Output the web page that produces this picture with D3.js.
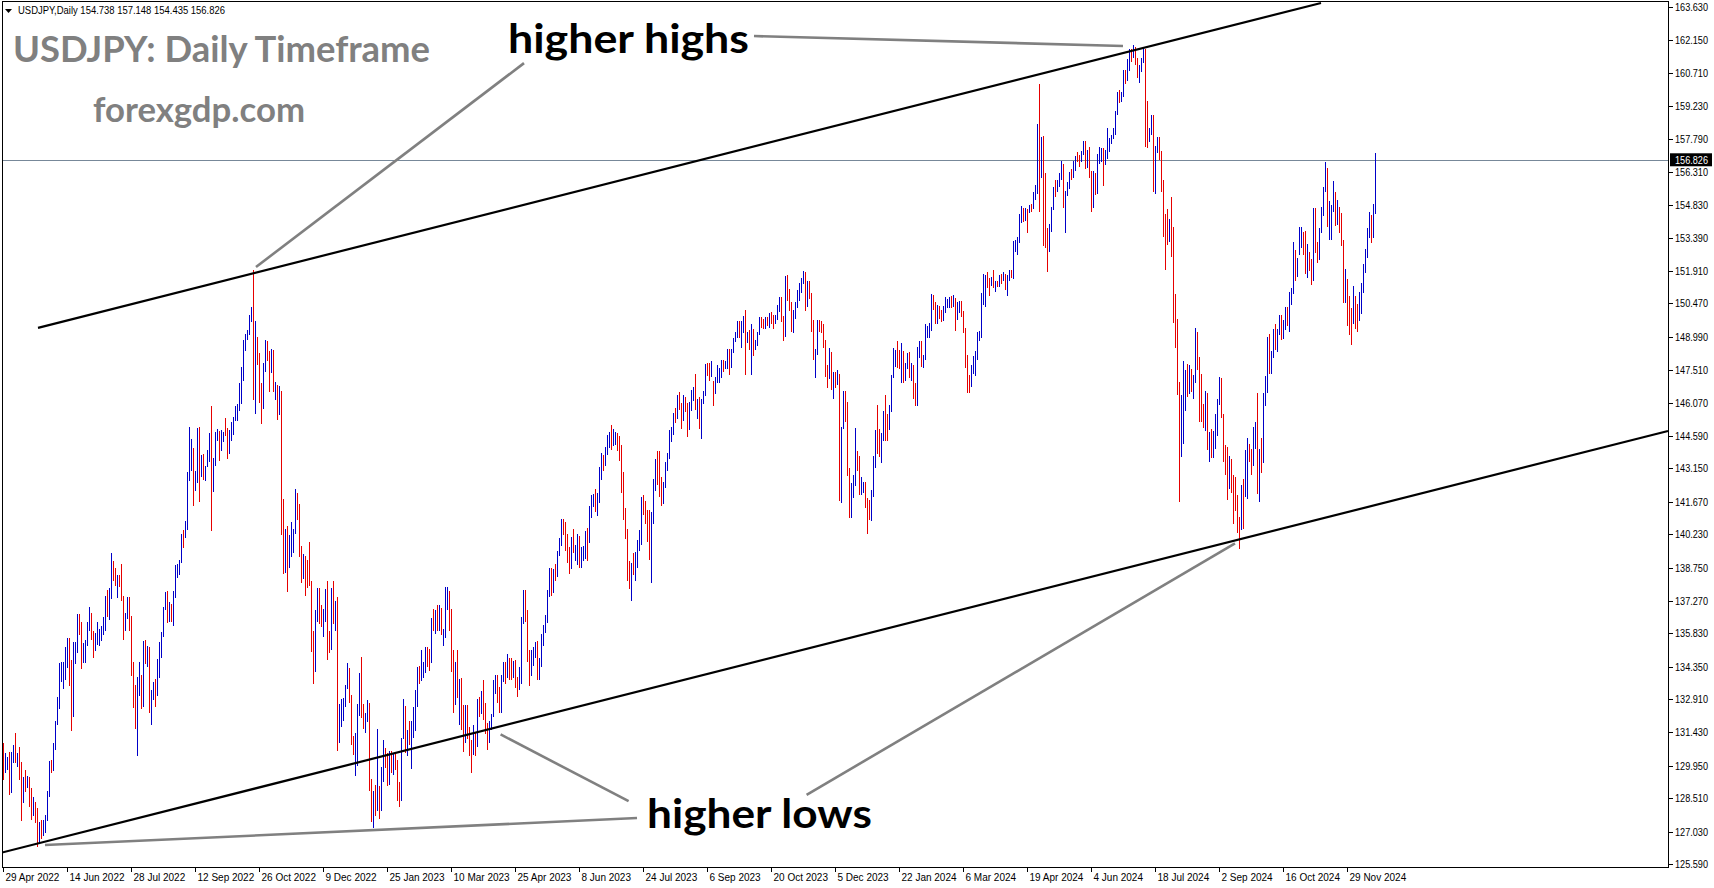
<!DOCTYPE html>
<html><head><meta charset="utf-8">
<script src="https://cdn.jsdelivr.net/npm/d3@7"></script>
<style>
html,body{margin:0;padding:0;background:#fff;overflow:hidden}
svg{display:block}
</style></head><body>
<script>
// ---------- DATA (daily bars: high, low, close; open = previous close) ----------
const firstOpen = 130.85;
const apr22 = [130.95,129.32,129.70];
const may22 = [130.50,129.62,130.15, 130.35,129.75,130.18, 130.57,128.65,129.10, 130.57,128.75,130.20, 130.87,130.09,130.55,
  131.39,130.09,130.27, 130.50,129.90,130.45, 130.80,129.30,129.95, 130.13,127.51,128.35, 129.45,128.30,129.25,
  129.75,128.80,129.15, 129.50,128.95,129.40, 129.45,128.10,128.25, 128.95,127.55,127.80, 128.55,127.70,127.90,
  128.35,127.40,127.85, 128.06,126.36,126.85, 127.45,126.55,127.35, 127.55,126.70,127.10, 127.55,126.85,127.15,
  127.75,126.95,127.60, 128.85,127.50,128.70];
const jun22 = [130.15,128.55,130.05, 130.20,129.65,129.85, 130.95,129.70,130.85, 131.95,130.65,131.90, 133.00,131.75,132.65,
  134.50,132.45,134.25, 134.55,133.65,134.35, 134.55,133.35,134.40, 135.20,133.75,134.45, 135.60,134.30,135.45,
  135.60,133.50,134.05, 134.65,131.50,132.20, 135.45,132.10,134.95, 135.45,134.45,135.05, 136.70,134.95,136.65,
  136.70,135.75,136.20, 136.35,134.25,134.95, 135.40,134.50,135.20, 135.55,134.50,135.45, 136.35,135.25,136.15,
  137.00,135.95,136.60, 136.75,135.55,135.70];
const jul22 = [135.95,134.75,135.20, 135.85,135.05,135.70, 136.35,135.30,135.85, 136.00,135.25,135.90, 136.15,135.50,136.00,
  136.55,135.75,136.10, 137.50,135.95,137.45, 137.75,136.55,137.00, 137.85,136.40,137.40, 139.40,137.35,138.95,
  139.05,138.15,138.55, 138.75,137.95,138.15, 138.40,137.40,138.20, 138.40,137.90,138.15, 138.90,137.25,137.40,
  137.50,135.55,136.10, 136.75,135.95,136.70, 137.45,136.45,137.00, 137.45,135.95,136.55, 136.60,133.95,134.25,
  134.55,132.50,133.25];
const aug22 = [133.55,131.60,131.60, 133.90,130.40,133.20, 134.55,133.05,133.85, 134.00,132.45,133.00, 135.50,132.55,135.00,
  135.55,134.45,134.95, 135.25,134.35,135.05, 135.20,132.30,132.90, 133.30,131.75,133.00, 133.65,132.85,133.45,
  133.80,132.55,133.30, 134.70,133.05,134.20, 135.45,133.85,135.00, 135.90,134.75,135.90, 137.00,135.65,136.90,
  137.65,136.85,137.45, 137.70,136.30,136.75, 137.20,136.35,137.10, 137.15,136.35,136.55, 137.70,136.15,137.55,
  138.85,137.40,138.75, 138.90,138.30,138.78, 139.10,138.40,138.95];
const sep22 = [140.25,138.95,140.20, 140.40,139.60,140.15, 140.80,140.05,140.60, 143.00,140.40,142.75, 144.99,142.60,143.75,
  144.45,143.05,144.10, 144.05,141.50,142.55, 143.05,142.15,142.85, 144.95,142.50,144.55, 145.00,141.65,143.15,
  143.75,142.75,143.45, 143.80,142.65,142.90, 143.25,142.60,143.20, 143.95,143.20,143.70, 144.70,143.45,144.00,
  145.90,140.35,142.40, 143.60,142.10,143.35, 144.75,143.25,144.70, 144.90,144.35,144.80, 144.80,143.50,144.20,
  144.85,143.90,144.45, 144.75,144.30,144.75];
const oct22 = [145.40,144.60,144.70, 144.95,143.55,144.10, 144.85,143.80,144.60, 145.20,144.35,145.10, 145.45,144.65,145.30,
  145.90,145.25,145.70, 146.00,145.25,145.80, 146.95,145.70,146.90, 147.65,146.00,147.20, 148.85,147.05,148.70,
  149.10,148.35,149.00, 149.30,148.85,149.20, 149.95,149.05,149.90, 150.30,149.65,150.15, 151.95,146.20,147.65,
  149.70,145.55,148.95, 149.00,147.75,148.00, 148.25,146.05,146.35, 146.95,145.10,146.25, 147.85,145.80,147.65,
  148.85,147.45,148.70];
const nov22 = [148.80,147.90,148.20, 148.35,146.55,147.90, 148.45,147.40,148.20, 148.40,146.55,146.60, 147.00,146.20,146.65,
  146.85,145.30,145.65, 146.80,145.50,146.40, 146.60,140.20,141.00, 141.80,138.45,138.75, 140.45,138.50,139.95,
  140.60,137.65,139.30, 140.20,138.75,139.50, 140.75,139.20,140.15, 140.45,139.40,140.35, 142.25,140.25,142.10,
  142.05,140.85,141.25, 141.55,139.20,139.55, 139.70,138.05,138.60, 139.35,138.25,139.20, 139.25,137.50,138.90,
  139.10,137.85,138.70, 139.90,137.95,138.10];
const dec22 = [138.15,135.00,135.30, 135.95,133.60,134.30, 136.85,134.10,136.75, 137.85,136.35,136.95, 137.85,136.25,136.65,
  137.10,136.10,136.55, 136.90,135.65,136.60, 137.80,136.35,137.70, 138.15,134.65,135.60, 135.95,134.95,135.50,
  137.85,135.10,137.75, 138.15,136.25,136.65, 137.25,135.95,137.05, 137.45,130.60,131.70, 132.70,130.95,132.40,
  132.90,131.65,132.45, 132.95,131.95,132.85, 133.55,132.55,133.50, 134.50,133.35,134.40, 134.30,132.75,133.05,
  133.10,130.85,131.10];
const jan23 = [131.25,130.45,130.70, 131.40,129.50,131.00, 132.70,129.95,132.40, 134.05,132.15,133.40, 134.80,132.05,132.10,
  132.70,131.60,131.90, 132.30,131.40,132.25, 132.85,131.90,132.45, 132.75,128.85,129.20, 129.35,127.45,127.90,
  128.85,127.20,128.55, 129.10,127.70,128.10, 131.58,127.95,128.90, 129.05,127.60,128.45, 129.90,127.95,129.60,
  131.10,129.25,130.65, 130.75,129.85,130.15, 130.50,129.05,129.20, 130.60,129.10,130.20, 130.60,129.65,129.85,
  130.50,129.55,130.30, 130.50,129.75,130.10];
const feb23 = [130.20,128.40,128.95, 129.25,128.10,128.65, 131.20,128.40,131.20, 132.90,131.15,132.60, 132.60,130.50,131.05,
  131.55,130.40,131.40, 131.95,130.85,131.35, 131.95,129.80,131.40, 132.55,131.20,132.40, 133.30,131.50,133.15,
  134.35,132.55,134.10, 134.40,133.60,133.95, 135.10,133.70,134.15, 134.55,133.85,134.25, 135.20,134.05,134.95,
  135.20,134.35,134.90, 135.15,134.15,134.70, 136.50,134.50,136.45, 136.90,135.95,136.20, 136.85,135.80,136.25];
const mar23 = [137.10,135.95,136.10, 137.10,135.95,136.70, 136.95,135.75,135.85, 136.00,135.25,135.90, 137.90,135.60,137.15,
  137.90,136.85,137.30, 137.70,135.95,136.10, 136.90,134.10,135.00, 135.10,132.30,133.20, 134.55,132.65,134.20,
  135.10,132.95,133.40, 133.80,131.75,133.70, 133.85,131.55,131.90, 132.65,130.55,131.35, 132.65,130.95,132.45,
  132.65,131.15,131.45, 131.65,130.40,130.75, 131.10,129.65,130.70, 131.75,130.45,131.50, 131.45,130.40,130.90,
  132.90,130.80,132.85, 133.00,132.10,132.70, 133.25,132.25,132.85];
const apr23 = [133.75,132.00,132.45, 132.75,131.35,131.70, 131.85,130.65,131.30, 131.95,130.95,131.80, 132.25,131.55,132.20,
  133.75,132.10,133.65, 134.00,133.15,133.70, 134.00,132.75,133.15, 133.45,132.30,132.60, 134.00,132.30,133.80,
  134.55,133.65,134.50, 134.55,133.60,134.10, 134.90,133.85,134.70, 134.75,133.75,134.25, 134.75,133.75,134.15,
  134.60,133.85,134.30, 134.65,133.40,133.70, 133.90,133.00,133.65, 134.35,133.30,133.95, 136.55,133.60,136.30];
const may23 = [137.75,136.25,137.45, 137.75,136.35,136.55, 136.85,134.55,134.65, 135.10,133.50,134.25, 135.10,133.95,134.80,
  135.20,134.40,135.10, 135.45,134.75,135.25, 135.50,133.75,134.35, 134.75,133.75,134.50, 135.80,134.35,135.70,
  136.20,135.25,136.10, 136.65,135.85,136.35, 137.75,136.30,137.65, 138.75,137.45,138.65, 138.75,137.50,137.95,
  138.70,137.60,138.60, 138.90,138.15,138.55, 139.50,138.35,139.45, 140.05,139.25,139.95, 140.90,139.70,140.60,
  140.90,140.20,140.45, 140.75,139.50,139.75, 140.25,138.95,139.30];
const jun23 = [139.65,138.45,138.80, 140.10,138.70,139.95, 140.45,139.40,139.55, 139.75,139.05,139.60, 140.25,138.85,140.10,
  140.15,138.75,139.35, 139.65,138.75,139.38, 139.70,139.05,139.50, 140.35,139.15,140.20, 140.50,139.05,140.00,
  141.50,139.85,141.30, 141.95,140.95,141.85, 142.00,141.45,141.95, 142.25,141.20,141.50, 142.05,141.05,141.85,
  143.20,141.60,143.10, 143.85,142.65,143.70, 143.75,143.05,143.50, 144.10,143.25,143.90, 144.65,143.75,144.35,
  144.75,144.05,144.70, 145.07,143.95,144.30];
const jul23 = [144.90,144.15,144.65, 144.75,144.20,144.68, 144.70,143.90,144.05, 144.60,143.50,144.00, 144.20,142.05,142.15,
  143.00,140.85,141.30, 141.40,140.00,140.35, 140.45,138.15,138.50, 139.05,137.80,138.10, 138.95,137.25,138.80,
  139.40,138.40,138.75, 139.45,138.15,139.40, 139.95,138.75,139.65, 140.40,139.50,140.05, 141.90,139.75,141.75,
  141.95,141.10,141.50, 141.70,140.70,140.90, 141.30,139.90,140.30, 141.30,139.10,139.45, 141.20,138.05,141.15,
  142.70,140.70,142.30];
const aug23 = [143.55,142.15,143.30, 143.90,142.40,143.25, 143.90,141.90,142.55, 142.75,141.50,141.75, 142.55,141.55,142.45,
  143.45,142.30,143.35, 143.85,143.05,143.75, 144.85,143.55,144.75, 145.00,144.30,144.95, 145.60,144.65,145.55,
  145.85,145.15,145.50, 146.40,145.35,146.35, 146.55,145.75,145.85, 146.05,144.90,145.40, 146.40,145.25,146.20,
  146.30,145.65,145.90, 146.05,144.55,144.85, 146.10,144.85,145.85, 146.65,145.70,146.40, 146.75,146.15,146.55,
  147.35,145.75,145.85, 146.25,145.35,146.20, 146.30,144.90,145.55];
const sep23 = [146.25,144.45,146.20, 146.60,146.00,146.50, 147.80,146.35,147.70, 147.85,147.25,147.65, 147.85,147.05,147.30,
  147.90,147.20,147.85, 147.05,145.90,146.55, 147.20,146.45,147.10, 147.75,146.95,147.45, 147.60,146.95,147.47,
  147.95,147.15,147.85, 147.95,147.45,147.60, 147.90,147.55,147.85, 148.45,147.55,148.35, 148.45,147.30,147.60,
  148.45,147.60,148.35, 148.95,148.25,148.85, 149.20,148.75,149.05, 149.70,148.95,149.65, 149.70,148.95,149.35,
  149.70,148.50,149.37];
const oct23 = [149.90,149.15,149.85, 150.16,147.30,149.00, 149.20,148.70,149.10, 149.30,148.40,148.50, 149.55,147.30,149.30,
  149.35,148.15,148.50, 148.85,148.40,148.70, 149.20,148.60,149.10, 149.85,149.05,149.80, 149.85,149.40,149.55,
  149.80,149.35,149.50, 149.85,149.35,149.80, 149.85,149.45,149.78, 150.05,149.40,149.85, 150.10,149.55,149.83,
  149.95,149.35,149.70, 149.95,149.55,149.90, 150.40,149.75,150.20, 150.75,150.10,150.40, 150.75,149.65,149.65,
  149.90,148.80,149.10, 151.70,149.00,151.65];
const nov23 = [151.72,150.60,150.95, 151.10,150.15,150.45, 150.55,149.20,149.40, 150.20,149.15,150.05, 150.55,149.80,150.35,
  151.05,150.25,151.00, 151.40,150.60,151.35, 151.60,150.95,151.50, 151.92,151.35,151.70, 151.85,150.15,150.40,
  151.45,150.30,151.35, 151.45,150.65,150.75, 150.95,149.20,149.60, 149.75,147.95,148.35, 148.45,147.15,148.40,
  149.75,148.20,149.55, 149.75,149.20,149.52, 149.70,149.15,149.45, 149.55,148.50,148.70, 148.85,147.20,147.45,
  147.75,146.70,147.20, 148.50,147.10,148.20];
const dec23 = [148.30,146.65,146.80, 147.45,146.25,147.20, 147.45,146.70,147.15, 147.50,146.85,147.30, 147.35,141.70,144.15,
  145.00,141.60,144.95, 146.60,144.90,146.20, 146.60,145.20,145.40, 146.10,142.80,142.90, 143.15,140.95,141.95,
  142.50,140.95,142.15, 142.85,141.85,142.80, 144.95,142.35,143.85, 143.90,143.05,143.50, 143.70,141.95,142.10,
  142.75,141.95,142.40, 142.55,142.05,142.45, 142.55,141.40,141.80, 141.85,140.25,141.40, 141.75,140.85,141.00];
const jan24 = [142.20,140.80,141.95, 143.70,141.90,143.30, 144.85,143.15,144.60, 145.98,143.80,144.58, 144.90,143.65,144.20,
  144.70,143.40,144.45, 145.70,144.35,145.70, 146.40,144.35,145.30, 145.55,144.35,144.90, 145.95,144.85,145.80,
  147.30,145.65,147.20, 148.50,147.15,148.15, 148.40,147.65,148.17, 148.80,147.60,148.15, 148.40,147.55,148.10,
  148.70,146.95,148.35, 148.35,146.95,147.45, 147.85,147.05,147.65, 148.25,147.55,148.15, 148.30,147.15,147.45,
  147.85,147.05,147.60, 147.75,146.25,146.90];
const feb24 = [146.95,145.90,146.45, 148.55,145.90,148.40, 148.80,148.05,148.65, 148.80,147.65,147.95, 148.20,147.60,148.15,
  149.55,147.95,149.30, 149.45,148.95,149.32, 149.60,148.95,149.35, 150.90,149.25,150.75, 150.85,150.20,150.60,
  150.55,149.55,149.95, 150.40,149.55,150.20, 150.35,149.80,150.00, 150.20,149.65,149.95, 150.35,149.70,150.30,
  150.75,150.05,150.50, 150.65,150.25,150.52, 150.75,150.25,150.70, 150.80,150.25,150.50, 150.85,150.30,150.60,
  150.70,149.25,149.95];
const mar24 = [150.55,149.75,150.10, 150.60,150.05,150.50, 150.60,149.85,149.95, 150.15,149.15,149.35, 149.40,147.60,148.05,
  148.20,146.50,147.05, 147.30,146.50,146.95, 147.75,146.75,147.65, 148.15,147.35,147.75, 148.35,147.25,148.35,
  149.20,147.95,149.10, 149.25,148.80,149.15, 150.95,148.95,150.85, 151.80,150.40,151.25, 151.75,150.30,151.60,
  151.85,151.15,151.45, 151.60,150.80,151.40, 151.65,151.25,151.55, 151.97,151.15,151.35, 151.45,151.00,151.37,
  151.45,151.20,151.35];
const apr24 = [151.75,151.20,151.65, 151.80,151.35,151.55, 151.85,151.45,151.70, 151.80,151.05,151.35, 151.75,150.80,151.60,
  151.95,151.45,151.85, 151.95,151.60,151.75, 153.25,151.55,153.15, 153.30,152.75,153.25, 153.40,152.60,153.30,
  154.45,153.15,154.25, 154.80,154.05,154.70, 154.70,154.10,154.35, 154.70,154.15,154.65, 154.65,153.60,154.60,
  154.85,154.50,154.80, 154.90,154.55,154.78, 155.40,154.65,155.35, 155.75,155.05,155.60, 158.45,155.35,158.30,
  160.20,154.55,156.35, 157.85,156.05,157.80];
const may24 = [157.90,153.00,155.70, 156.25,152.95,153.00, 153.80,151.86,152.95, 154.00,152.75,153.90, 154.75,153.65,154.70,
  155.65,154.60,155.55, 155.95,155.20,155.50, 155.95,155.40,155.75, 156.25,155.65,156.20, 156.80,155.95,156.40,
  156.65,154.70,154.90, 155.45,153.60,155.40, 155.85,155.25,155.65, 156.30,155.55,156.25, 156.45,155.95,156.20,
  156.80,156.05,156.80, 157.00,156.35,156.95, 157.20,156.75,156.93, 157.05,156.55,156.85, 157.25,156.75,157.15,
  157.70,157.05,157.60, 157.70,156.45,156.80, 157.30,156.50,157.30];
const jun24 = [157.40,156.05,156.10, 156.35,154.55,154.80, 156.35,154.70,156.10, 156.25,155.30,155.60, 157.10,155.35,156.75,
  157.40,156.65,157.05, 157.35,156.75,157.20, 157.35,155.70,156.65, 157.30,156.60,157.05, 158.25,156.90,157.40,
  157.80,157.20,157.75, 157.95,157.55,157.85, 158.25,157.75,158.10, 159.00,157.95,158.95, 159.85,158.85,159.80,
  159.95,159.35,159.70, 159.85,159.40,159.72, 160.85,159.65,160.75, 160.85,160.20,160.73, 161.30,160.35,160.90];
const jul24 = [161.75,160.80,161.45, 161.75,161.20,161.43, 161.95,161.35,161.75, 161.85,161.05,161.30, 161.35,160.50,160.75,
  161.05,160.25,160.80, 161.35,160.75,161.30, 161.80,161.15,161.65, 161.75,157.40,158.85, 159.45,157.35,157.85,
  158.25,157.65,158.05, 158.85,157.95,158.35, 158.85,155.40,156.20, 157.45,155.35,157.40, 157.85,157.15,157.45,
  157.85,156.85,157.05, 157.25,155.40,155.60, 155.95,153.40,153.90, 154.45,151.95,153.85, 154.65,153.05,153.75,
  154.20,153.20,154.00, 155.20,152.55,152.75, 153.85,149.60,149.95];
const aug24 = [150.90,148.50,149.35, 149.80,146.40,146.50, 147.00,141.68,144.20, 146.40,143.65,144.30, 147.90,144.25,146.70,
  147.50,145.70,147.25, 147.80,146.30,146.60, 147.75,146.45,147.20, 147.55,146.55,146.85, 147.30,146.25,147.30,
  149.40,146.95,149.30, 149.20,147.50,147.60, 148.10,145.20,146.00, 147.35,145.20,145.25, 146.00,144.95,145.15,
  146.60,144.80,146.30, 146.50,143.95,144.35, 144.75,143.45,144.55, 144.90,143.60,144.10, 144.80,143.60,144.65,
  145.55,144.00,145.00, 146.25,144.60,146.15];
const sep24 = [147.20,145.95,147.00, 147.15,145.40,145.50, 145.55,143.45,143.75, 144.20,142.85,143.40, 144.10,141.75,142.30,
  143.70,142.25,143.10, 143.55,142.05,142.50, 142.85,140.70,142.35, 142.75,141.25,141.80, 141.95,140.30,140.85,
  141.00,139.58,140.60, 142.40,140.40,142.35, 142.70,140.45,142.30, 143.95,141.90,142.60, 144.50,141.80,143.85,
  144.25,143.45,143.60, 144.00,142.85,143.20, 145.00,143.25,144.80, 145.20,144.00,144.85, 146.50,142.00,142.20,
  144.00,141.65,143.65];
const oct24 = [144.50,142.95,143.60, 146.50,143.40,146.45, 147.25,145.90,146.90, 149.00,146.50,148.70, 149.10,147.35,148.20,
  148.35,147.35,148.22, 149.35,148.05,149.30, 149.55,148.40,148.60, 149.35,148.30,149.15, 149.95,149.05,149.75,
  149.95,148.85,149.20, 149.75,148.90,149.65, 150.30,149.30,150.00, 150.30,149.45,149.50, 151.00,149.20,150.85,
  151.15,150.40,151.05, 153.20,150.90,152.70, 152.85,151.45,151.85, 152.50,151.65,152.30, 153.88,152.60,153.30,
  153.85,152.95,153.40, 153.65,152.60,153.35, 153.70,151.80,152.05];
const nov24 = [153.10,151.60,152.95, 152.75,151.90,152.15, 152.45,151.30,151.60, 154.70,151.45,154.60, 154.70,152.70,152.95,
  153.20,152.25,152.65, 153.80,152.40,153.70, 154.75,153.60,154.65, 155.65,154.35,155.45, 156.75,155.40,156.25,
  156.50,153.85,154.30, 155.00,153.30,154.65, 154.84,153.29,154.65, 155.90,154.54,155.45, 155.43,153.91,154.50,
  155.06,153.95,154.80, 154.76,153.58,154.20, 154.50,153.00,153.05, 153.30,150.50,151.10, 152.00,150.50,151.60,
  151.56,149.47,149.75];
const dec24 = [150.80,149.07,149.60, 150.26,148.63,149.55, 151.25,149.56,150.60, 150.78,149.34,150.05, 150.45,149.20,150.00,
  150.96,149.70,150.90, 151.40,150.00,151.30, 152.22,150.92,152.10, 152.89,151.81,152.75, 153.83,152.47,153.65,
  154.52,153.36,154.15, 154.40,153.17,153.50, 154.87,153.36,154.738, 157.148,154.435,156.826];

const priceTicks = [163.630,162.150,160.710,159.230,157.790,156.310,154.830,153.390,151.910,150.470,148.990,147.510,
  146.070,144.590,143.150,141.670,140.230,138.750,137.270,135.830,134.350,132.910,131.430,129.950,128.510,127.030,125.590];
const dateTicks = ["29 Apr 2022","14 Jun 2022","28 Jul 2022","12 Sep 2022","26 Oct 2022","9 Dec 2022","25 Jan 2023",
  "10 Mar 2023","25 Apr 2023","8 Jun 2023","24 Jul 2023","6 Sep 2023","20 Oct 2023","5 Dec 2023","22 Jan 2024",
  "6 Mar 2024","19 Apr 2024","4 Jun 2024","18 Jul 2024","2 Sep 2024","16 Oct 2024","29 Nov 2024"];
const holidays = ["2022-12-26","2023-12-25","2024-01-01"];
const lastPrice = 156.826;
const headerText = "USDJPY,Daily  154.738 157.148 154.435 156.826";
// channel lines and annotation pointers: [bar index, price]
const upperChannel = [[17.5,149.39],[659,163.81]];
const lowerChannel = [[-0.5,126.10],[832.5,144.81]];
const pointerHighs = [[[375.5,162.34],[560,161.90]], [[260.5,161.14],[126.5,152.09]]];
const pointerLows = [[[21,126.43],[317,127.63]], [[312.8,128.38],[248.8,131.34]], [[401.8,128.66],[616,139.82]]];
const labelHighs = {text:"higher highs", at:[252.5,161.61]};
const labelLows = {text:"higher lows", at:[322,127.21]};

// ---------- BUILD ----------
const months = [apr22,may22,jun22,jul22,aug22,sep22,oct22,nov22,dec22,jan23,feb23,mar23,apr23,may23,jun23,jul23,aug23,sep23,oct23,nov23,dec23,
  jan24,feb24,mar24,apr24,may24,jun24,jul24,aug24,sep24,oct24,nov24,dec24];
const flat = [].concat(...months);
const bars = [];
for (let k = 0; k < flat.length; k += 3) {
  const o = bars.length ? bars[bars.length-1].c : firstOpen;
  bars.push({i: bars.length, o, h: flat[k], l: flat[k+1], c: flat[k+2]});
}
const MON = ["Jan","Feb","Mar","Apr","May","Jun","Jul","Aug","Sep","Oct","Nov","Dec"];
const dates = [];
for (let t = Date.UTC(2022,3,29); dates.length < bars.length && t < Date.UTC(2025,0,1); t += 86400000) {
  const d = new Date(t), wd = d.getUTCDay();
  if (wd === 0 || wd === 6) continue;
  if (holidays.includes(d.toISOString().slice(0,10))) continue;
  dates.push(d.getUTCDate() + " " + MON[d.getUTCMonth()] + " " + d.getUTCFullYear());
}

const W = 1714, H = 888;
const PL = 2.5, PR = 1668.5, PT = 1.5, PB = 867.5;
const x = d3.scaleLinear().domain([0, 686]).range([3, 1375]);
const y = d3.scaleLinear().domain([125.59, 163.63]).range([864, 7]);

const svg = d3.select("body").append("svg").attr("width", W).attr("height", H)
  .style("font-family", "'Liberation Sans', Arial, sans-serif");
svg.append("rect").attr("width", W).attr("height", H).attr("fill", "#fff");
svg.append("clipPath").attr("id","plot").append("rect")
  .attr("x", PL).attr("y", PT).attr("width", PR-PL).attr("height", PB-PT);
const plot = svg.append("g").attr("clip-path","url(#plot)");

svg.append("text").attr("x", 13).attr("y", 62).attr("fill", "#808080")
  .style("font-family","Lato, 'Open Sans', sans-serif").style("font-weight","700").style("font-size","37px")
  .attr("textLength", 417).attr("lengthAdjust","spacingAndGlyphs").text("USDJPY: Daily Timeframe");
svg.append("text").attr("x", 93).attr("y", 122).attr("fill", "#808080")
  .style("font-family","Lato, 'Open Sans', sans-serif").style("font-weight","700").style("font-size","34px")
  .attr("textLength", 212).attr("lengthAdjust","spacingAndGlyphs").text("forexgdp.com");

plot.append("line").attr("x1", PL).attr("x2", PR)
  .attr("y1", Math.round(y(lastPrice))+0.5).attr("y2", Math.round(y(lastPrice))+0.5)
  .attr("stroke", "#778899").attr("stroke-width", 1);

plot.append("g").attr("shape-rendering","crispEdges").selectAll("line").data(bars).join("line")
  .attr("x1", d => Math.round(x(d.i)) + 0.5).attr("x2", d => Math.round(x(d.i)) + 0.5)
  .attr("y1", d => y(d.h)).attr("y2", d => y(d.l))
  .attr("stroke", d => d.c >= d.o ? "#0000c8" : "#e60000").attr("stroke-width", 1);

const ln = d3.line().x(d => x(d[0])).y(d => y(d[1]));
[upperChannel, lowerChannel].forEach(p => plot.append("path").attr("d", ln(p))
  .attr("fill","none").attr("stroke","#000").attr("stroke-width", 2.2));
pointerHighs.concat(pointerLows).forEach(p => plot.append("path").attr("d", ln(p))
  .attr("fill","none").attr("stroke","#808080").attr("stroke-width", 2.6));

svg.append("text").attr("x", x(labelHighs.at[0])).attr("y", y(labelHighs.at[1])).attr("fill","#000")
  .style("font-family","Lato, 'Open Sans', sans-serif").style("font-weight","700").style("font-size","41px")
  .attr("textLength", 241).attr("lengthAdjust","spacingAndGlyphs").text(labelHighs.text);
svg.append("text").attr("x", x(labelLows.at[0])).attr("y", y(labelLows.at[1])).attr("fill","#000")
  .style("font-family","Lato, 'Open Sans', sans-serif").style("font-weight","700").style("font-size","41px")
  .attr("textLength", 225).attr("lengthAdjust","spacingAndGlyphs").text(labelLows.text);

svg.append("path").attr("d","M5,9 L12,9 L8.5,13 Z").attr("fill","#000");
svg.append("text").attr("x", 18).attr("y", 14).attr("fill","#000").style("font-size","11px")
  .attr("textLength", 207).attr("lengthAdjust","spacingAndGlyphs").text(headerText);

svg.append("rect").attr("x", PL).attr("y", PT).attr("width", PR-PL).attr("height", PB-PT)
  .attr("fill","none").attr("stroke","#000").attr("stroke-width",1).attr("shape-rendering","crispEdges");

const pa = svg.append("g");
priceTicks.forEach(p => {
  const yy = Math.round(y(p)) + 0.5;
  pa.append("line").attr("x1", PR).attr("x2", PR+4).attr("y1", yy).attr("y2", yy).attr("stroke","#000")
    .attr("shape-rendering","crispEdges");
  pa.append("text").attr("x", 1675).attr("y", yy).attr("dy","0.35em").style("font-size","10px")
    .attr("textLength", 33).attr("lengthAdjust","spacingAndGlyphs")
    .attr("fill","#000").text(d3.format(".3f")(p));
});
const ly = y(lastPrice);
pa.append("rect").attr("x", 1670).attr("y", ly - 7).attr("width", 42).attr("height", 13).attr("fill","#000");
pa.append("text").attr("x", 1675).attr("y", ly).attr("dy","0.35em").style("font-size","10px")
  .attr("textLength", 33).attr("lengthAdjust","spacingAndGlyphs")
  .attr("fill","#fff").text(d3.format(".3f")(lastPrice));

const da = svg.append("g");
dateTicks.forEach(lbl => {
  const idx = dates.indexOf(lbl);
  if (idx < 0) return;
  const xx = Math.round(x(idx)) + 0.5;
  da.append("line").attr("x1", xx).attr("x2", xx).attr("y1", PB).attr("y2", PB+4).attr("stroke","#000")
    .attr("shape-rendering","crispEdges");
  da.append("text").attr("x", xx + 2).attr("y", 881).style("font-size","10px").attr("fill","#000").text(lbl);
});
</script>
</body></html>
